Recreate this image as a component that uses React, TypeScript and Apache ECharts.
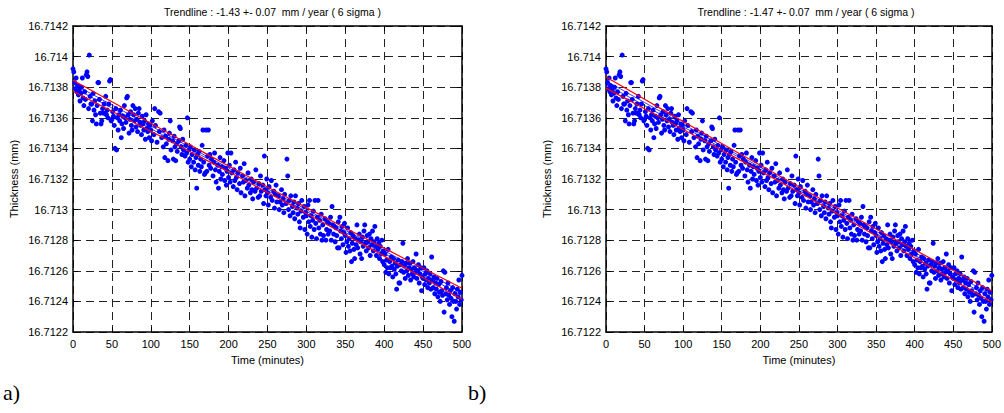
import React, { useEffect, useRef } from "react";
import * as echarts from "echarts";

const measurements: [number, number][] = [
  [0,16.71392],[1,16.7139],[2,16.71383],[3,16.71379],[4,16.71386],[5,16.71377],[6,16.71381],[7,16.71375],[8,16.71378],[9,16.71371],
  [10,16.71376],[11,16.7138],[12,16.71386],[13,16.71373],[14,16.71368],[15,16.71377],[16,16.71372],[17,16.71388],[18,16.7139],[19,16.71387],
  [20,16.71366],[21,16.71401],[22,16.71374],[23,16.71369],[24,16.71369],[25,16.71358],[26,16.71376],[27,16.71365],[28,16.71371],[29,16.71362],
  [30,16.71356],[31,16.71368],[32,16.71383],[33,16.71383],[34,16.71372],[35,16.71363],[36,16.71356],[37,16.71358],[38,16.71366],[39,16.71363],
  [40,16.71369],[41,16.71363],[42,16.71374],[43,16.71362],[44,16.71365],[45,16.7136],[46,16.71369],[47,16.71384],[48,16.71385],[49,16.71358],
  [50,16.71359],[51,16.71364],[52,16.71361],[53,16.71355],[54,16.7134],[55,16.71366],[56,16.71339],[57,16.7136],[58,16.71352],[59,16.71362],
  [60,16.71358],[61,16.71365],[62,16.71347],[63,16.71356],[64,16.71361],[65,16.71353],[66,16.71368],[67,16.7136],[68,16.71357],[69,16.71373],
  [70,16.71374],[71,16.71362],[72,16.7135],[73,16.71359],[74,16.71364],[75,16.71355],[76,16.71352],[77,16.71368],[78,16.71362],[79,16.71358],
  [80,16.71366],[81,16.71354],[82,16.71359],[83,16.71351],[84,16.71363],[85,16.71366],[86,16.71357],[87,16.71355],[88,16.71349],[89,16.71361],
  [90,16.71356],[91,16.71352],[92,16.71358],[93,16.71346],[94,16.71362],[95,16.71353],[96,16.71351],[97,16.71356],[98,16.71347],[99,16.71355],
  [100,16.71352],[101,16.71345],[102,16.71358],[104,16.71349],[105,16.71366],[106,16.71355],[108,16.71344],[110,16.71364],[111,16.71351],[112,16.71363],
  [114,16.71347],[116,16.71341],[117,16.71352],[118,16.71334],[119,16.71348],[120,16.71343],[122,16.71332],[123,16.71346],[124,16.7135],[125,16.71358],
  [126,16.71339],[128,16.71345],[129,16.71333],[130,16.71348],[131,16.71341],[132,16.71332],[133,16.71343],[134,16.71338],[136,16.71345],[137,16.71354],
  [138,16.71353],[139,16.71341],[140,16.71336],[141,16.71346],[142,16.71339],[144,16.71335],[145,16.71342],[146,16.71337],[147,16.7136],[148,16.71331],[149,16.71339],
  [150,16.71333],[151,16.71341],[152,16.71328],[153,16.71336],[155,16.71331],[156,16.71339],[157,16.71326],[158,16.71334],[159,16.71314],[160,16.71336],
  [161,16.71329],[162,16.71338],[163,16.71325],[164,16.71333],[165,16.71328],[166,16.71342],[167,16.71352],[168,16.71331],[169,16.71323],[170,16.71324],
  [171,16.71352],[172,16.71325],[173,16.71335],[174,16.71352],[175,16.71329],[176,16.71336],[177,16.71327],[178,16.71333],[180,16.71322],[181,16.71331],
  [182,16.71337],[183,16.71326],[184,16.71318],[186,16.71329],[187,16.71314],[188,16.71325],[189,16.71334],[190,16.7132],[191,16.71328],[192,16.71323],
  [194,16.71332],[195,16.71319],[196,16.71327],[197,16.71316],[198,16.71325],[199,16.71337],[200,16.71321],
  [201,16.71329],[202,16.71318],[203,16.71337],[204,16.71324],[206,16.71315],[207,16.71326],[208,16.71319],[209,16.71331],[210,16.71321],[211,16.71313],
  [212,16.71324],[214,16.71317],[215,16.71327],[216,16.71311],[218,16.71322],[219,16.71318],[220,16.7133],[221,16.71309],[222,16.71319],[224,16.71314],
  [225,16.71324],[226,16.71316],[228,16.71311],[229,16.7132],[230,16.71313],[231,16.71307],[232,16.71318],[234,16.71312],[235,16.71326],[236,16.71314],
  [238,16.71308],[239,16.71317],[240,16.71309],[241,16.71322],[242,16.71312],[244,16.71316],[245,16.71304],[246,16.71335],[247,16.71313],[248,16.71309],[249,16.7132],
  [250,16.71311],[251,16.71303],[252,16.71315],[254,16.71308],[255,16.71319],[256,16.71306],[258,16.71312],[259,16.71301],[260,16.7131],[261,16.71316],
  [262,16.71305],[264,16.71309],[265,16.713],[266,16.71305],[268,16.71313],[269,16.71303],[270,16.71307],[271,16.71298],[272,16.7131],[274,16.71304],
  [275,16.71333],[276,16.71322],[277,16.713],[278,16.71306],[279,16.71296],[280,16.71309],[282,16.71302],[283,16.71298],[284,16.71305],[285,16.71294],
  [286,16.71309],[288,16.71301],[289,16.71297],[290,16.71304],[291,16.71292],[292,16.71288],[293,16.71299],[294,16.71306],[296,16.71295],[297,16.71302],[298,16.71287],[299,16.71298],
  [300,16.71296],[301,16.71284],[302,16.71303],[303,16.71292],[304,16.71306],[305,16.71289],[306,16.71296],[307,16.71282],[308,16.71293],[309,16.71299],
  [310,16.71287],[311,16.71306],[312,16.71291],[313,16.71281],[314,16.71295],[315,16.71306],[316,16.71288],[317,16.71293],[318,16.71284],[319,16.71297],
  [320,16.7128],[321,16.7129],[322,16.71283],[324,16.71294],[325,16.7128],[326,16.71287],[327,16.71292],[328,16.71284],[329,16.71291],[330,16.71286],
  [331,16.71295],[332,16.7128],[333,16.71302],[334,16.7129],[335,16.71284],[336,16.71289],[337,16.71279],[338,16.71288],[339,16.71283],[340,16.71275],
  [341,16.71292],[342,16.71275],[343,16.71295],[344,16.71286],[345,16.71281],[346,16.71289],[347,16.71277],[348,16.71285],[349,16.71291],
  [350,16.71283],[351,16.71272],[352,16.71279],[353,16.71288],[354,16.71276],[355,16.71281],[356,16.71273],[357,16.71285],[358,16.71266],[359,16.71278],
  [360,16.71283],[361,16.71274],[362,16.71268],[363,16.71281],[364,16.71277],[365,16.7129],[366,16.71275],[367,16.7128],[368,16.71284],[369,16.71271],
  [370,16.71279],[371,16.71268],[372,16.71282],[373,16.71276],[374,16.71286],[375,16.7129],[376,16.71278],[377,16.71273],[378,16.71283],[379,16.71279],
  [380,16.71275],[381,16.71284],[382,16.7127],[383,16.71281],[384,16.71277],[385,16.71286],[386,16.71273],[387,16.71279],[388,16.71289],[389,16.71276],
  [390,16.7127],[391,16.71281],[392,16.71274],[393,16.71278],[394,16.71268],[395,16.71276],[396,16.71271],[397,16.7128],[398,16.71266],[399,16.71273],
  [400,16.71264],[401,16.71271],[402,16.71259],[403,16.71267],[404,16.71262],[405,16.71274],[406,16.71258],[407,16.71266],[408,16.71262],[409,16.71269],
  [410,16.71263],[411,16.71256],[412,16.71268],[413,16.71261],[414,16.71265],[415,16.71258],[416,16.71248],[417,16.71263],[418,16.71267],[419,16.71252],
  [420,16.71252],[421,16.71264],[422,16.7126],[423,16.71266],[424,16.71278],[425,16.71259],[426,16.71263],[427,16.71255],[428,16.71265],[429,16.7126],
  [430,16.71268],[431,16.71257],[432,16.71262],[433,16.71265],[434,16.71254],[435,16.71261],[436,16.71258],[437,16.71266],[438,16.71256],[439,16.71262],
  [440,16.71259],[441,16.71271],[442,16.71255],[443,16.7126],[444,16.71264],[445,16.71252],[446,16.71258],[447,16.71262],[448,16.71247],[449,16.71256],
  [450,16.71255],[451,16.71262],[452,16.71251],[453,16.71258],[454,16.71254],[455,16.7126],[456,16.71249],[457,16.71255],[458,16.71252],[459,16.71258],
  [460,16.71248],[461,16.71269],[462,16.71254],[463,16.71249],[464,16.71256],[465,16.71245],[466,16.71252],[467,16.71248],[468,16.71255],[469,16.71243],
  [470,16.71251],[471,16.71246],[472,16.7124],[473,16.71253],[474,16.71247],[475,16.71244],[476,16.7126],[477,16.71233],[478,16.71259],[479,16.71245],
  [480,16.71249],[481,16.71241],[482,16.71252],[483,16.71244],[484,16.71238],[485,16.71247],[486,16.71242],[487,16.7123],[488,16.71249],[489,16.7124],
  [490,16.71227],[491,16.71245],[492,16.7124],[493,16.71235],[494,16.71248],[495,16.71243],[496,16.71254],[497,16.71238],[498,16.71246],[499,16.71241],[500,16.71257],
];

// Band sample times (minutes)
const bandMinutes = [0, 50, 100, 150, 200, 250, 300, 350, 400, 450, 500];

// Panel a) trend bands (mm)
const redUpperA = [16.713846, 16.713705, 16.713564, 16.713424, 16.713285, 16.713148, 16.713013, 16.71288, 16.712748, 16.712617, 16.712486];
const redLowerA = [16.713774, 16.713643, 16.713512, 16.71338, 16.713247, 16.713112, 16.712975, 16.712836, 16.712696, 16.712555, 16.712414];
const blueUpperA = [16.713822, 16.713684, 16.713547, 16.713409, 16.713272, 16.713136, 16.713, 16.712865, 16.712731, 16.712596, 16.712462];
const blueLowerA = [16.713798, 16.713664, 16.713529, 16.713395, 16.71326, 16.713124, 16.712988, 16.712851, 16.712713, 16.712576, 16.712438];

// Panel b) trend bands (mm)
const redUpperB = [16.713866, 16.713721, 16.713576, 16.713432, 16.71329, 16.713149, 16.71301, 16.712873, 16.712737, 16.712602, 16.712468];
const redLowerB = [16.713794, 16.713659, 16.713524, 16.713388, 16.713252, 16.713113, 16.712972, 16.712829, 16.712685, 16.71254, 16.712396];
const blueUpperB = [16.713842, 16.7137, 16.713559, 16.713417, 16.713277, 16.713137, 16.712997, 16.712858, 16.71272, 16.712581, 16.712444];
const blueLowerB = [16.713818, 16.71368, 16.713541, 16.713403, 16.713265, 16.713125, 16.712985, 16.712844, 16.712702, 16.712561, 16.71242];

const titleA = "Trendline : -1.43 +- 0.07  mm / year ( 6 sigma )";
const titleB = "Trendline : -1.47 +- 0.07  mm / year ( 6 sigma )";
const xName = "Time (minutes)";
const yName = "Thickness (mm)";
const panelLabels = ["a)", "b)"];

const Y_MIN = 16.7122;
const Y_MAX = 16.7142;
const Y_STEP = 0.0002;

const FONT = "Liberation Sans, Arial, sans-serif";

export default function App() {
  const ref = useRef<HTMLDivElement>(null);

  useEffect(() => {
    if (!ref.current) return;
    const chart = echarts.init(ref.current, undefined, { renderer: "svg" });

    const grids = [
      { left: 73, top: 26, width: 389, height: 306 },
      { left: 606, top: 26, width: 390, height: 306 },
    ];

    const splitLine = { show: true, lineStyle: { color: "#222", type: [8, 5] as any, width: 1 } };
    const axisLine = { show: true, onZero: false, lineStyle: { color: "#000", width: 1.5 } };
    const tick = { show: true, inside: true, length: 5, lineStyle: { color: "#000" } };

    const xAxes: any[] = [];
    const yAxes: any[] = [];
    grids.forEach((_, gi) => {
      xAxes.push({
        type: "value", gridIndex: gi, min: 0, max: 500, interval: 50, position: "bottom",
        name: xName, nameLocation: "middle", nameGap: 22,
        nameTextStyle: { fontFamily: FONT, fontSize: 11, color: "#000" },
        axisLine, axisTick: tick,
        axisLabel: { fontFamily: FONT, fontSize: 11, color: "#000", margin: 6 },
        splitLine,
      });
      xAxes.push({
        type: "value", gridIndex: gi, min: 0, max: 500, interval: 50, position: "top",
        axisLine, axisTick: tick, axisLabel: { show: false }, splitLine: { show: false },
      });
      yAxes.push({
        type: "value", gridIndex: gi, min: Y_MIN, max: Y_MAX, interval: Y_STEP, position: "left",
        name: yName, nameLocation: "middle", nameGap: 54, nameRotate: 90,
        nameTextStyle: { fontFamily: FONT, fontSize: 11, color: "#000" },
        axisLine, axisTick: tick,
        axisLabel: {
          fontFamily: FONT, fontSize: 11, color: "#000", margin: 5,
          formatter: (v: number) => String(Number(v.toFixed(4))),
        },
        splitLine,
      });
      yAxes.push({
        type: "value", gridIndex: gi, min: Y_MIN, max: Y_MAX, interval: Y_STEP, position: "right",
        axisLine, axisTick: tick, axisLabel: { show: false }, splitLine: { show: false },
      });
    });

    const bands = [
      [redUpperA, redLowerA, blueUpperA, blueLowerA],
      [redUpperB, redLowerB, blueUpperB, blueLowerB],
    ];

    const series: any[] = [];
    grids.forEach((_, gi) => {
      series.push({
        type: "scatter", xAxisIndex: gi * 2, yAxisIndex: gi * 2,
        data: measurements, symbolSize: 5,
        itemStyle: { color: "#0000ff", opacity: 1 }, z: 2,
      });
      bands[gi].forEach((vals, bi) => {
        series.push({
          type: "line", xAxisIndex: gi * 2, yAxisIndex: gi * 2,
          data: bandMinutes.map((t, i) => [t, vals[i]]),
          showSymbol: false, smooth: true,
          lineStyle: { color: bi < 2 ? "#ff0000" : "#0000ff", width: bi < 2 ? 1.2 : 0.8 },
          z: bi < 2 ? 4 : 3,
        });
      });
    });

    chart.setOption({
      animation: false,
      backgroundColor: "#fff",
      title: [
        { text: titleA, left: 73 + 389 / 2, top: 1, textAlign: "center",
          textStyle: { fontFamily: FONT, fontSize: 10.5, fontWeight: "normal", color: "#000" } },
        { text: titleB, left: 606 + 390 / 2, top: 1, textAlign: "center",
          textStyle: { fontFamily: FONT, fontSize: 10.5, fontWeight: "normal", color: "#000" } },
      ],
      grid: grids,
      xAxis: xAxes,
      yAxis: yAxes,
      series,
      graphic: [
        { type: "text", left: 3, top: 381, style: { text: panelLabels[0], font: "22px 'Liberation Serif', 'Times New Roman', serif", fill: "#000" } },
        { type: "text", left: 468, top: 381, style: { text: panelLabels[1], font: "22px 'Liberation Serif', 'Times New Roman', serif", fill: "#000" } },
      ],
    });

    return () => chart.dispose();
  }, []);

  return (
    <div
      ref={ref}
      style={{ position: "absolute", left: 0, top: 0, width: 1004, height: 413, background: "#fff" }}
    />
  );
}
